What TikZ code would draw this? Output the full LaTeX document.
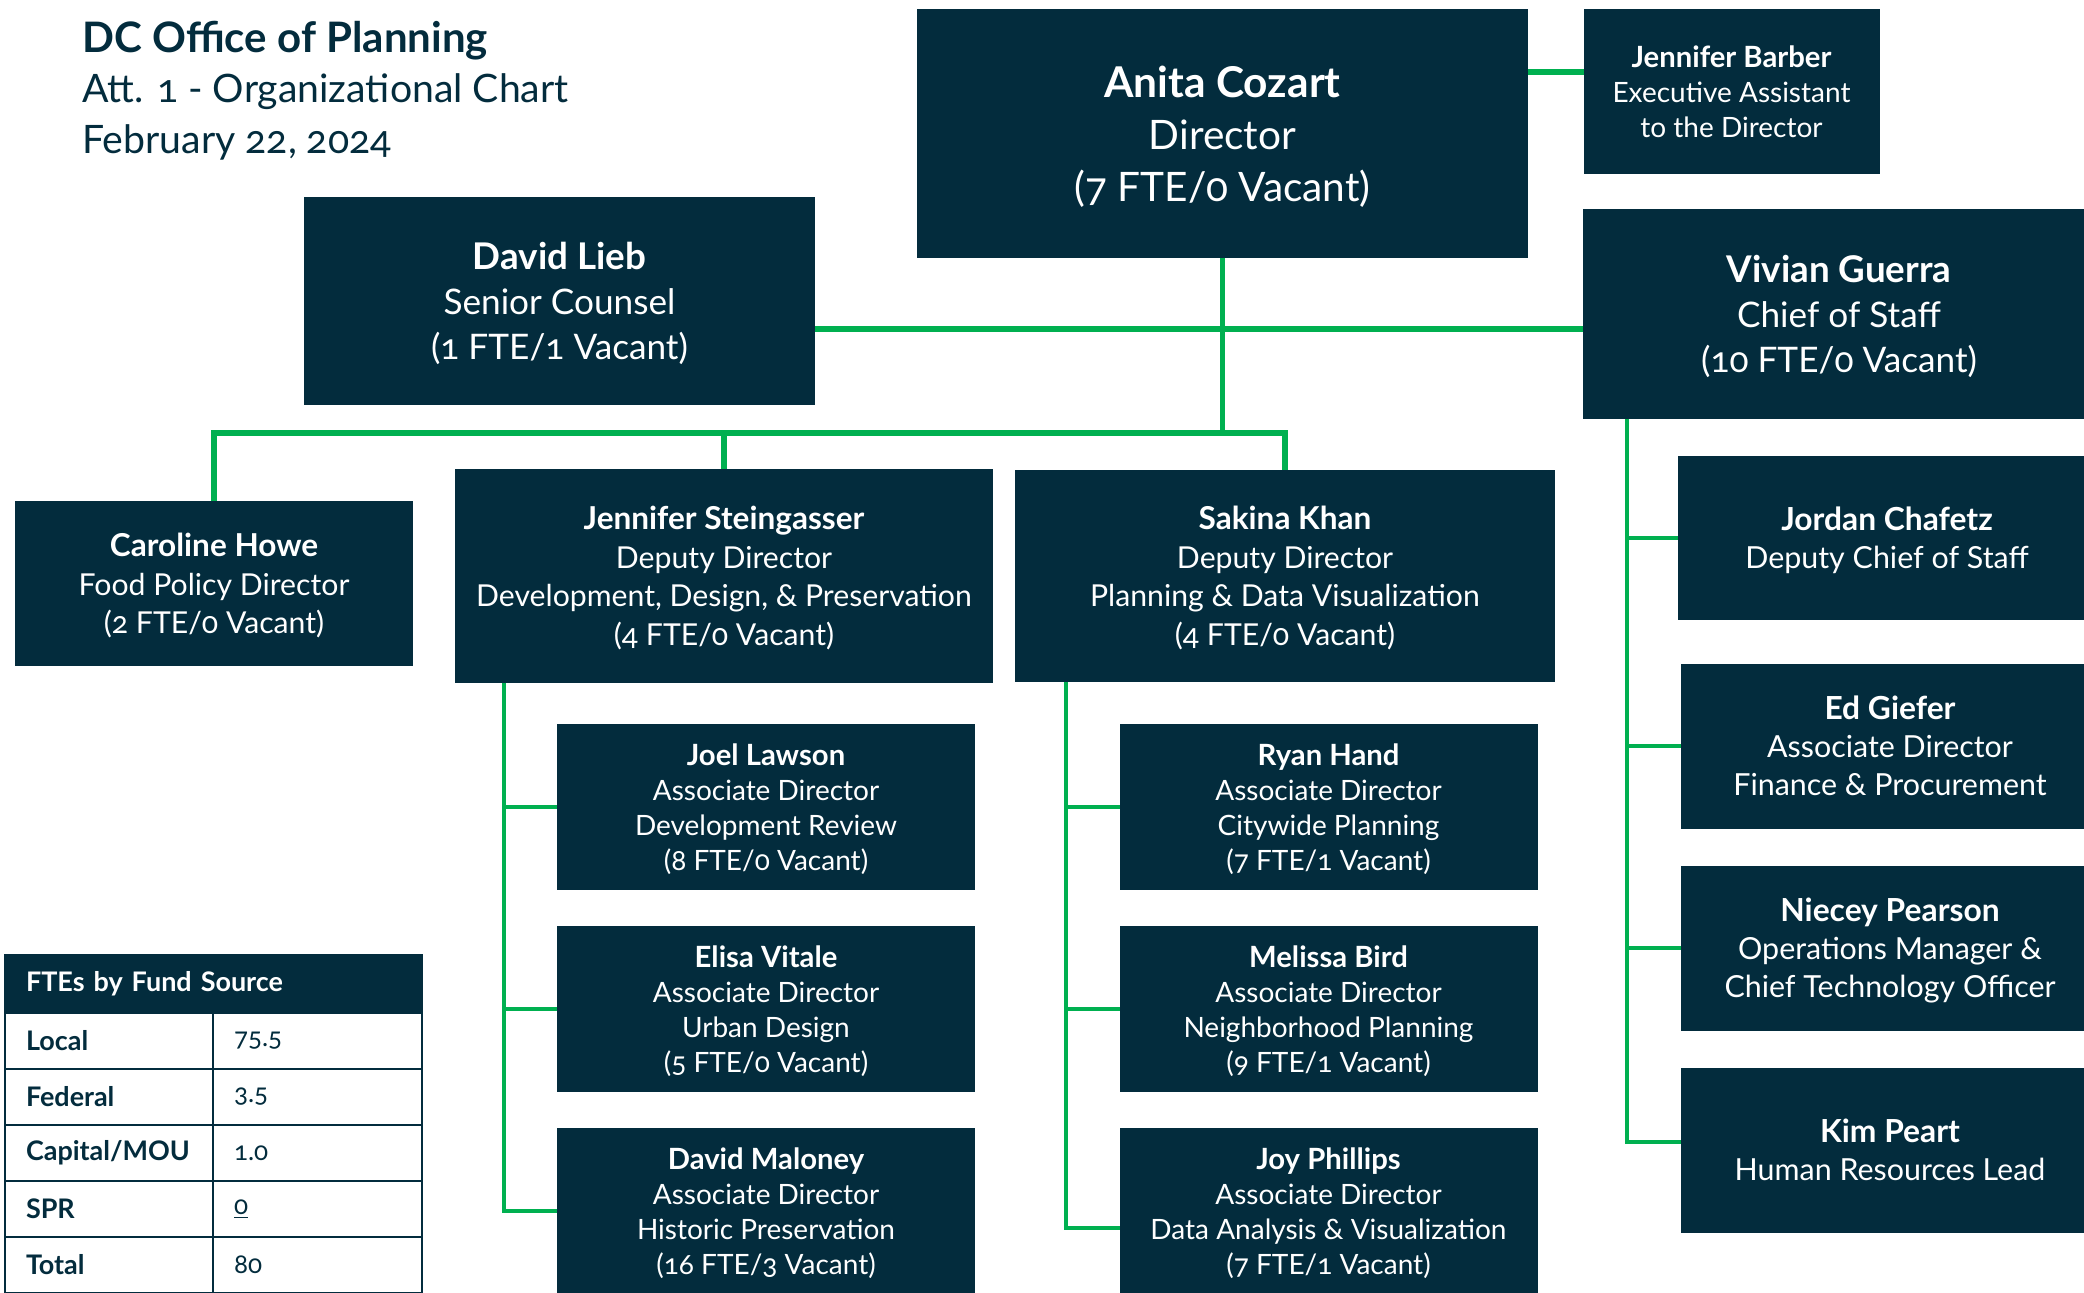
\documentclass[tikz,border=0pt]{standalone}
\usepackage{fontspec}
\setmainfont{Lato}[Numbers=OldStyle, BoldFeatures={Scale=1.045}]
\usepackage{tikz}
\usetikzlibrary{positioning}
\definecolor{op-navy}{HTML}{032C3D}
\definecolor{op-green}{HTML}{00B050}
\definecolor{op-white}{HTML}{FFFFFF}
\newcommand{\fsz}[2]{\fontsize{#1}{#2}\selectfont}

\begin{document}
\begin{tikzpicture}[
    x=0.5pt, y=-0.5pt,             % one unit is one pixel of the sheet, y runs down
    node distance=18pt and 20pt,   % gap between stacked boxes
    font=\fsz{14}{19}
  ]

  % Global Style Definitions
  \tikzset{
    unit/.style={fill=op-navy, text=op-white, inner sep=0pt, outer sep=0pt, align=center, text depth=0pt},
    head/.style={unit, font=\fsz{20.3}{26}},
    lead/.style={unit, font=\fsz{17.6}{22.5}},
    deputy/.style={unit, font=\fsz{15.1}{19.25}},
    assoc/.style={unit, font=\fsz{14}{17.5}, minimum width=209pt, minimum height=83pt},
    staff/.style={unit, font=\fsz{15.2}{19}, minimum width=209pt, minimum height=82.5pt},
    heading/.style={anchor=base west, inner sep=0pt, text=op-navy},
    link/.style={draw=op-green, line width=2.6pt},
    sublink/.style={draw=op-green, line width=2pt},
    fundcell/.style={draw=op-navy, line width=1pt, inner xsep=10.5pt, inner ysep=0pt, outer sep=0pt,
      minimum height=28pt, align=left, text=op-navy, font=\fsz{13}{16}},
    fundkey/.style={fundcell, text width=83pt, font=\fsz{12.9}{16}\bfseries},
    fundval/.style={fundcell, text width=83.5pt}
  }

  \useasboundingbox (0,0) rectangle (2084,1292);

  % Title block
  \node (title) [heading, font=\fsz{20.1}{25}\bfseries] at (82,52) {DC Office of Planning};
  \node (subtitle) [heading, font=\fsz{19.6}{25}] at ([yshift=-25pt]title.base west) {Att. 1 - Organizational Chart};
  \node (date) [heading, font=\fsz{19.6}{25}] at ([yshift=-25.5pt]subtitle.base west) {February 22, 2024};

  % Director and her office
  \node (director) [head, minimum width=305.5pt, minimum height=124.5pt] at (1222.5,133.5)
    {\textbf{Anita Cozart}\\Director\\(7 FTE/0 Vacant)};
  \node (assistant) [unit, font=\fsz{14}{17.5}, minimum width=148pt, minimum height=82.5pt] at (1731.5,91.5)
    {\textbf{Jennifer Barber}\\Executive Assistant\\to the Director};
  \node (chief) [lead, minimum width=256pt, minimum height=105pt] at (1839,314)
    {\textbf{Vivian Guerra}\\Chief of Staff\\(10 FTE/0 Vacant)};
  \node (counsel) [lead, minimum width=255.5pt, minimum height=104pt] at (559.5,301)
    {\textbf{David Lieb}\\Senior Counsel\\(1 FTE/1 Vacant)};

  % Second level
  \node (food) [deputy, minimum width=199pt, minimum height=82.5pt] at (214,583.5)
    {\textbf{Caroline Howe}\\Food Policy Director\\(2 FTE/0 Vacant)};
  \node (dddp) [deputy, minimum width=269pt, minimum height=107pt] at (724,576)
    {\textbf{Jennifer Steingasser}\\Deputy Director\\Development, Design, \& Preservation\\(4 FTE/0 Vacant)};
  \node (pdv) [deputy, minimum width=270pt, minimum height=106pt] at (1285,576)
    {\textbf{Sakina Khan}\\Deputy Director\\Planning \& Data Visualization\\(4 FTE/0 Vacant)};

  % Development, Design, & Preservation
  \node (joel) [assoc, below=20.5pt of dddp, xshift=21pt] {\textbf{Joel Lawson}\\Associate Director\\Development Review\\(8 FTE/0 Vacant)};
  \node (elisa) [assoc, below=of joel] {\textbf{Elisa Vitale}\\Associate Director\\Urban Design\\(5 FTE/0 Vacant)};
  \node (maloney) [assoc, below=of elisa] {\textbf{David Maloney}\\Associate Director\\Historic Preservation\\(16 FTE/3 Vacant)};

  % Planning & Data Visualization
  \node (ryan) [assoc, below=21pt of pdv, xshift=21.75pt] {\textbf{Ryan Hand}\\Associate Director\\Citywide Planning\\(7 FTE/1 Vacant)};
  \node (melissa) [assoc, below=of ryan] {\textbf{Melissa Bird}\\Associate Director\\Neighborhood Planning\\(9 FTE/1 Vacant)};
  \node (joy) [assoc, below=of melissa] {\textbf{Joy Phillips}\\Associate Director\\Data Analysis \& Visualization\\(7 FTE/1 Vacant)};

  % Chief of Staff team
  \node (jordan) [staff, minimum height=82pt] at (1887,537.5) {\textbf{Jordan Chafetz}\\Deputy Chief of Staff};
  \node (ed) [staff, below=22pt of jordan, xshift=1.5pt] {\textbf{Ed Giefer}\\Associate Director\\Finance \& Procurement};
  \node (niecey) [staff, below=18.5pt of ed] {\textbf{Niecey Pearson}\\Operations Manager \&\\Chief Technology Officer};
  \node (kim) [staff, below=18.5pt of niecey] {\textbf{Kim Peart}\\Human Resources Lead};

  % Top level connectors
  \coordinate (bus) at (1222.5,329);
  \coordinate (split) at (1222.5,433);
  \coordinate (aide) at ([yshift=30.75pt]director.east);
  \draw[link] (aide) -- (aide -| assistant.west);
  \draw[link] (director.south) -- (split);
  \draw[link] (counsel.east |- bus) -- (chief.west |- bus);
  \draw[link] (food.north) |- (split) -| (pdv.north);
  \draw[link] (dddp.north) -- (dddp.north |- split);

  % Trunks down to the associate directors
  \coordinate (dtrunk) at ([xshift=24.5pt]dddp.south west);
  \draw[sublink] (dtrunk) |- (maloney.west);
  \draw[sublink] (dtrunk |- joel.west) -- (joel.west);
  \draw[sublink] (dtrunk |- elisa.west) -- (elisa.west);

  \coordinate (ptrunk) at ([xshift=25.5pt]pdv.south west);
  \coordinate (joyin) at ([yshift=-8.5pt]joy.west);
  \draw[sublink] (ptrunk) |- (joyin);
  \draw[sublink] (ptrunk |- ryan.west) -- (ryan.west);
  \draw[sublink] (ptrunk |- melissa.west) -- (melissa.west);

  \coordinate (ctrunk) at ([xshift=22pt]chief.south west);
  \coordinate (kimin) at ([yshift=4pt]kim.west);
  \draw[sublink] (ctrunk) |- (kimin);
  \draw[sublink] (ctrunk |- jordan.west) -- (jordan.west);
  \draw[sublink] (ctrunk |- ed.west) -- (ed.west);
  \draw[sublink] (ctrunk |- niecey.west) -- (niecey.west);

  % FTEs by fund source
  \node (fundhead) [fundcell, fill=op-navy, text=op-white, text width=187.5pt, minimum height=29pt, font=\fsz{12.9}{16}\bfseries, anchor=north west] at (5,955) {FTEs by Fund Source};
  \node (localkey) [fundkey, below=0pt of fundhead.south west, anchor=north west] {Local};
  \node (localval) [fundval, right=0pt of localkey] {75.5};
  \node (fedkey) [fundkey, below=0pt of localkey] {Federal};
  \node (fedval) [fundval, right=0pt of fedkey] {3.5};
  \node (capkey) [fundkey, below=0pt of fedkey] {Capital/MOU};
  \node (capval) [fundval, right=0pt of capkey] {1.0};
  \node (sprkey) [fundkey, below=0pt of capkey] {SPR};
  \node (sprval) [fundval, right=0pt of sprkey] {\underline{0}};
  \node (totkey) [fundkey, below=0pt of sprkey] {Total};
  \node (totval) [fundval, right=0pt of totkey] {80};

\end{tikzpicture}
\end{document}
